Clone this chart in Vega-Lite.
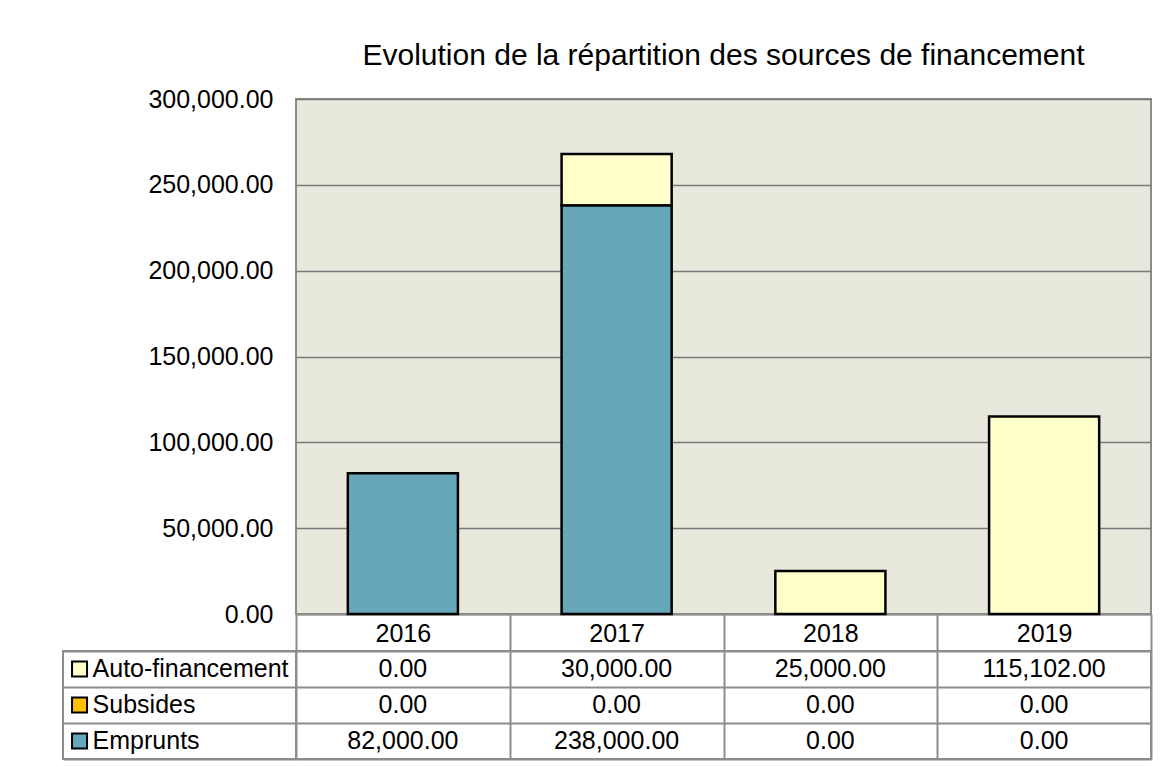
{
  "$schema": "https://vega.github.io/schema/vega-lite/v6.json",
  "padding": {"left": 62, "top": 40, "right": 5, "bottom": 5},
  "background": "white",
  "config": {
    "font": "Liberation Sans",
    "view": {"stroke": null},
    "axis": {"labelColor": "black", "labelFont": "Liberation Sans"},
    "text": {"font": "Liberation Sans", "color": "black"}
  },
  "datasets": {
    "fin": [
      {"year": "2016", "series": "Auto-financement", "value": 0},
      {"year": "2016", "series": "Subsides", "value": 0},
      {"year": "2016", "series": "Emprunts", "value": 82000},
      {"year": "2017", "series": "Auto-financement", "value": 30000},
      {"year": "2017", "series": "Subsides", "value": 0},
      {"year": "2017", "series": "Emprunts", "value": 238000},
      {"year": "2018", "series": "Auto-financement", "value": 25000},
      {"year": "2018", "series": "Subsides", "value": 0},
      {"year": "2018", "series": "Emprunts", "value": 0},
      {"year": "2019", "series": "Auto-financement", "value": 115102},
      {"year": "2019", "series": "Subsides", "value": 0},
      {"year": "2019", "series": "Emprunts", "value": 0}
    ],
    "series": [
      {"series": "Auto-financement"},
      {"series": "Subsides"},
      {"series": "Emprunts"}
    ]
  },
  "columns": 2,
  "spacing": {"row": 37, "column": 0},
  "bounds": "flush",
  "resolve": {"scale": {"x": "independent", "y": "independent", "color": "shared"}},
  "concat": [
    {
      "width": 233,
      "height": 515,
      "data": {"values": []},
      "mark": "text"
    },
    {
      "width": 855,
      "height": 515,
      "view": {"fill": "#E9E8DD", "stroke": "#8C8C8C", "strokeWidth": 2},
      "title": {
        "text": "Evolution de la répartition des sources de financement",
        "fontSize": 30,
        "fontWeight": "normal",
        "font": "Liberation Sans",
        "color": "black",
        "frame": "group",
        "anchor": "middle",
        "offset": 16
      },
      "data": {"name": "fin"},
      "transform": [{"filter": "datum.value > 0"}],
      "mark": {"type": "bar", "stroke": "black", "strokeWidth": 2.5, "width": {"band": 0.515}},
      "encoding": {
        "x": {
          "field": "year",
          "type": "ordinal",
          "scale": {"paddingInner": 0, "paddingOuter": 0},
          "axis": {
            "orient": "bottom",
            "title": null,
            "labelAngle": 0,
            "labelFontSize": 25,
            "labelBaseline": "top",
            "labelPadding": -30,
            "tickBand": "extent",
            "tickSize": 37,
            "tickColor": "#8C8C8C",
            "tickWidth": 2,
            "domainColor": "#8C8C8C",
            "domainWidth": 2
          }
        },
        "y": {
          "field": "value",
          "type": "quantitative",
          "stack": "zero",
          "scale": {"domain": [0, 300000], "nice": false},
          "axis": {
            "values": [0, 50000, 100000, 150000, 200000, 250000, 300000],
            "format": ",.2f",
            "labelFontSize": 25,
            "ticks": false,
            "domain": false,
            "grid": true,
            "gridColor": "#7A7A7A",
            "gridWidth": 1.5,
            "labelPadding": 23,
            "title": null
          }
        },
        "color": {
          "field": "series",
          "type": "nominal",
          "scale": {
            "domain": ["Auto-financement", "Subsides", "Emprunts"],
            "range": ["#FFFFCC", "#FFC000", "#66A7BA"]
          },
          "legend": null
        },
        "order": {"field": "series", "sort": "descending"}
      }
    },
    {
      "width": 233,
      "height": 108,
      "view": {"stroke": "#8C8C8C", "strokeWidth": 2},
      "data": {"name": "series"},
      "encoding": {
        "y": {
          "field": "series",
          "type": "nominal",
          "scale": {"domain": ["Auto-financement", "Subsides", "Emprunts"], "paddingInner": 0, "paddingOuter": 0},
          "axis": {
            "grid": true,
            "tickBand": "extent",
            "labels": false,
            "ticks": false,
            "domain": false,
            "title": null,
            "gridColor": "#8C8C8C",
            "gridWidth": 2
          }
        }
      },
      "layer": [
        {
          "mark": {"type": "point", "shape": "square", "filled": true, "size": 225, "stroke": "black", "strokeWidth": 2, "opacity": 1},
          "encoding": {
            "x": {"datum": 0.071, "type": "quantitative", "scale": {"domain": [0, 1], "nice": false, "zero": false}, "axis": null},
            "color": {"field": "series", "type": "nominal", "legend": null}
          }
        },
        {
          "mark": {"type": "text", "align": "left", "baseline": "middle", "fontSize": 25},
          "encoding": {
            "x": {"datum": 0.127, "type": "quantitative", "axis": null},
            "text": {"field": "series"}
          }
        }
      ]
    },
    {
      "width": 855,
      "height": 108,
      "view": {"stroke": "#8C8C8C", "strokeWidth": 2},
      "data": {"name": "fin"},
      "mark": {"type": "text", "fontSize": 25, "baseline": "middle"},
      "encoding": {
        "x": {
          "field": "year",
          "type": "ordinal",
          "scale": {"paddingInner": 0, "paddingOuter": 0},
          "axis": {
            "grid": true,
            "tickBand": "extent",
            "labels": false,
            "ticks": false,
            "domain": false,
            "title": null,
            "gridColor": "#8C8C8C",
            "gridWidth": 2
          }
        },
        "y": {
          "field": "series",
          "type": "nominal",
          "scale": {"domain": ["Auto-financement", "Subsides", "Emprunts"], "paddingInner": 0, "paddingOuter": 0},
          "axis": {
            "grid": true,
            "tickBand": "extent",
            "labels": false,
            "ticks": false,
            "domain": false,
            "title": null,
            "gridColor": "#8C8C8C",
            "gridWidth": 2
          }
        },
        "text": {"field": "value", "type": "quantitative", "format": ",.2f"}
      }
    }
  ]
}
